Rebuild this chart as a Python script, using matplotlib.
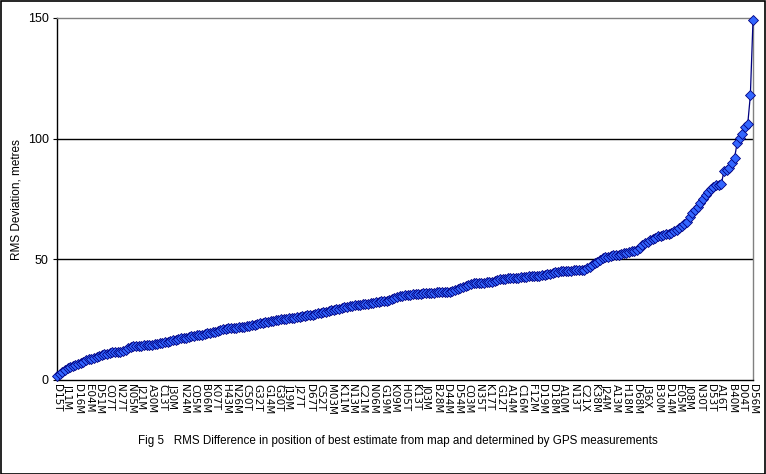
import matplotlib
matplotlib.use("Agg")
import matplotlib.pyplot as plt
from matplotlib.patches import Rectangle

# ---- data -------------------------------------------------------------
rms_values = [
    1.7, 2.6, 3.5, 4.0, 4.8, 5.4, 5.9, 6.4, 6.8, 7.2,
    7.6, 8.1, 8.5, 8.9, 9.2, 9.5, 9.9, 10.2, 10.6, 10.9,
    11.3, 11.6, 11.7, 11.7, 11.8, 12.0, 12.6, 13.3, 13.8, 13.9,
    14.0, 14.1, 14.2, 14.3, 14.4, 14.5, 14.6, 14.9, 15.1, 15.3,
    15.5, 15.7, 15.9, 16.2, 16.4, 16.6, 16.9, 17.2, 17.4, 17.6,
    17.9, 18.1, 18.3, 18.5, 18.7, 18.8, 19.1, 19.3, 19.5, 19.7,
    19.9, 20.1, 20.6, 21.1, 21.2, 21.4, 21.5, 21.6, 21.7, 21.9,
    22.0, 22.1, 22.2, 22.4, 22.6, 22.9, 23.2, 23.5, 23.7, 24.0,
    24.2, 24.4, 24.6, 24.8, 24.9, 25.1, 25.3, 25.4, 25.6, 25.7,
    25.8, 26.0, 26.2, 26.4, 26.6, 26.8, 26.9, 27.1, 27.4, 27.6,
    27.9, 28.1, 28.3, 28.6, 28.8, 29.0, 29.3, 29.6, 29.8, 30.1,
    30.4, 30.6, 30.8, 30.9, 31.0, 31.2, 31.3, 31.4, 31.6, 31.8,
    32.0, 32.2, 32.4, 32.6, 32.7, 32.9, 33.1, 33.4, 33.8, 34.2,
    34.6, 35.0, 35.2, 35.3, 35.4, 35.5, 35.6, 35.7, 35.8, 35.9,
    36.0, 36.0, 36.1, 36.2, 36.3, 36.3, 36.4, 36.5, 36.5, 36.6,
    36.9, 37.3, 37.7, 38.1, 38.6, 39.0, 39.4, 39.7, 40.1, 40.2,
    40.3, 40.4, 40.4, 40.5, 40.6, 40.8, 41.1, 41.5, 41.8, 41.9,
    42.0, 42.1, 42.1, 42.2, 42.3, 42.4, 42.5, 42.6, 42.7, 42.9,
    43.0, 43.1, 43.2, 43.3, 43.5, 43.6, 43.8, 44.0, 44.3, 44.6,
    44.9, 45.0, 45.1, 45.2, 45.3, 45.3, 45.4, 45.5, 45.5, 45.6,
    45.7, 46.3, 46.8, 47.5, 48.3, 49.1, 49.8, 50.4, 50.8, 51.1,
    51.4, 51.6, 51.8, 52.0, 52.3, 52.5, 52.8, 53.1, 53.4, 53.6,
    53.9, 54.8, 55.9, 56.6, 57.3, 57.9, 58.4, 59.0, 59.5, 59.8,
    60.1, 60.4, 60.7, 61.1, 61.6, 62.3, 63.0, 63.9, 64.7, 65.5,
    67.5, 69.0, 70.3, 71.7, 73.2, 75.0, 76.5, 77.8, 79.0, 80.0,
    80.8, 81.0, 81.2, 86.7, 87.0, 87.7, 89.8, 92.1, 98.3, 100.4,
    102.0, 105.0, 106.0, 118.0, 149.0,
]

# visible category labels (every 4th station is labelled on the axis)
shown_labels = [
    "D15T", "J11M", "D16M", "E04M", "D51M", "C07T", "N27T", "N05M", "J21M",
    "A30M", "C13T", "J30M", "N24M", "C05M", "B06M", "K07T", "H43M",
    "N26M", "C50T", "G32T", "G14M", "G30T", "J19M", "J27T", "D67T",
    "C52T", "M03M", "K11M", "N13M", "C21M", "N06M", "G19M", "K09M",
    "H05T", "K13T", "J03M", "B28M", "D44M", "D54M", "C03M", "N35T",
    "K17T", "G12T", "A14M", "C16M", "F12M", "D19M", "D18M", "A10M",
    "N13T", "C21X", "K38M", "J24M", "A13M", "H18M", "D68M", "J36X",
    "B30M", "D14M", "E05M", "J08M", "N30T", "D53T", "A16T", "B40M",
    "D04T", "D56M",
]
label_step = 4

y_ticks = [0, 50, 100, 150]
y_label = "RMS Deviation, metres"
caption = "Fig 5   RMS Difference in position of best estimate from map and determined by GPS measurements"

# ---- figure -----------------------------------------------------------
W, H = 766, 474
fig = plt.figure(figsize=(W / 100, H / 100), dpi=100)
fig.patch.set_facecolor("white")

ax = fig.add_axes([57 / W, 1 - 380 / H, (753 - 57) / W, (380 - 18) / H])

x = list(range(len(rms_values)))
ax.plot(x, rms_values, color="#000080", lw=0.9, zorder=3,
        marker="D", markersize=5.4, markerfacecolor="#3366FF",
        markeredgecolor="#000080", markeredgewidth=0.6, clip_on=False)

ax.set_xlim(0, len(rms_values) - 1)
ax.set_ylim(0, 150)

for v in (50, 100):
    ax.axhline(v, color="black", lw=1.0, zorder=1)

ax.set_yticks(y_ticks)
ax.set_yticklabels([str(t) for t in y_ticks], fontfamily="Liberation Sans", fontsize=9)
ax.tick_params(axis="y", direction="out", length=3, width=0.8, pad=3, colors="black")

tick_pos = list(range(0, len(rms_values), label_step))
ax.set_xticks(tick_pos)
ax.set_xticklabels(shown_labels[:len(tick_pos)], rotation=270, fontfamily="DejaVu Sans",
                   fontsize=7.5, ha="center", va="top")
ax.tick_params(axis="x", length=0, pad=3)

ax.spines["left"].set_color("black")
ax.spines["bottom"].set_color("black")
ax.spines["top"].set_color("#808080")
ax.spines["right"].set_color("#808080")
for s in ax.spines.values():
    s.set_linewidth(1.0)

fig.text(17 / W, 1 - 200 / H, y_label, rotation=90, ha="center", va="center",
         fontfamily="Liberation Sans", fontsize=8.5)
fig.text(398 / W, 1 - 441 / H, caption, ha="center", va="center",
         fontfamily="Liberation Sans", fontsize=8.4)

fig.patches.append(Rectangle((0.5 / W, 0.5 / H), (W - 1.5) / W, (H - 1.5) / H,
                             transform=fig.transFigure, fill=False,
                             edgecolor="black", lw=1.2))

fig.savefig("out.png", dpi=100, facecolor="white")
